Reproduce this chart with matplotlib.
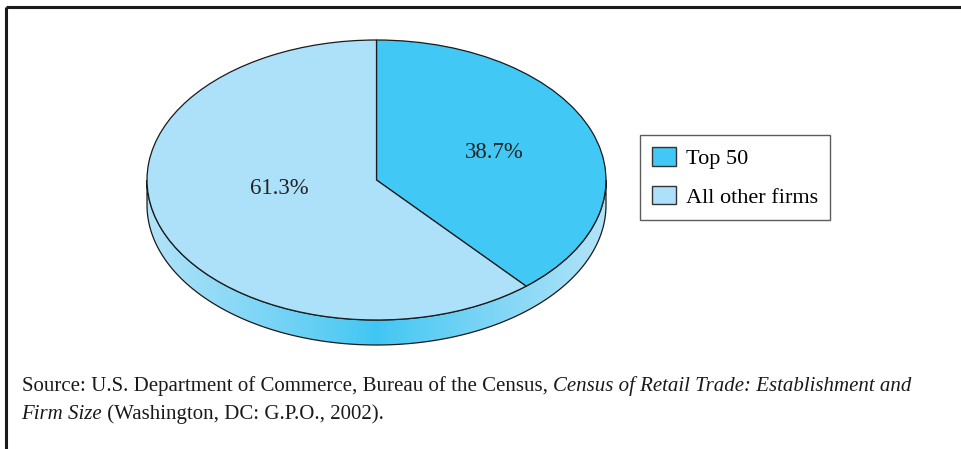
import numpy as np
import matplotlib
matplotlib.use("Agg")
from matplotlib import pyplot as plt
from matplotlib.patches import Wedge, PathPatch, Patch
from matplotlib.path import Path
from matplotlib.transforms import Affine2D
from matplotlib.colors import to_rgb

# data
labels = ["Top 50", "All other firms"]
shares = [38.7, 61.3]
colors = ["#42c8f4", "#ade1fa"]
pct_text = ["38.7%", "61.3%"]

# layout (pixel units, y measured upward)
W, H = 961, 449
cx, cy = 376.5, 449 - 180
a, b = 229.5, 140
depth = 25
label_pos = [(494, 449 - 153), (279, 449 - 189)]

plt.rcParams['font.family'] = ['Liberation Serif', 'DejaVu Serif']

fig = plt.figure(figsize=(W / 100, H / 100), dpi=100)
ax = fig.add_axes([0, 0, 1, 1])
ax.set_xlim(0, W)
ax.set_ylim(0, H)
ax.axis('off')

# side of the disc with a horizontal gradient
t = np.linspace(np.pi, 2 * np.pi, 200)
top_arc = np.column_stack([cx + a * np.cos(t), cy + b * np.sin(t)])
bot_arc = np.column_stack([cx + a * np.cos(t[::-1]), cy - depth + b * np.sin(t[::-1])])
side = PathPatch(Path(np.vstack([top_arc, bot_arc, top_arc[:1]]), closed=True),
                 facecolor='none', edgecolor='#1a1a1a', lw=0.9, zorder=2)
ax.add_patch(side)
xs = np.linspace(-1, 1, 400)
c_mid = np.array(to_rgb("#40c6f3"))
c_edge = np.array(to_rgb("#b2e3f8"))
w = np.abs(xs)[:, None] ** 0.9
grad = (c_mid * (1 - w) + c_edge * w)[None, :, :]
im = ax.imshow(grad, extent=[cx - a, cx + a, cy - b - depth, cy], aspect='auto',
               interpolation='bilinear', zorder=1)
im.set_clip_path(side)

# top face, clockwise from 12 o'clock
ell = Affine2D().scale(a, b).translate(cx, cy) + ax.transData
start = 90.0
for share, col in zip(shares, colors):
    sweep = share / sum(shares) * 360.0
    ax.add_patch(Wedge((0, 0), 1, start - sweep, start, facecolor=col,
                       edgecolor='#1a1a1a', lw=0.9, transform=ell, zorder=3))
    start -= sweep

for txt, (x, y) in zip(pct_text, label_pos):
    ax.text(x, y, txt, ha='center', va='center', fontsize=16.4, color='#222222', zorder=4)

handles = [Patch(facecolor=c, edgecolor='#333333', lw=1.0) for c in colors]
leg = ax.legend(handles, labels, loc='upper left', bbox_to_anchor=(640, 449 - 135),
                bbox_transform=ax.transData, borderaxespad=0, fontsize=16,
                frameon=True, fancybox=False, handlelength=1.05, handleheight=0.9,
                handletextpad=0.45, labelspacing=0.75, borderpad=0.55)
leg.get_frame().set_edgecolor('#333333')
leg.get_frame().set_linewidth(1.0)

# frame lines
ax.plot([5.5, W], [449 - 7, 449 - 7], color='#1a1a1a', lw=2.2, solid_capstyle='butt')
ax.plot([6, 6], [449 - 7, 0], color='#1a1a1a', lw=2.2, solid_capstyle='butt')

# source note with italic title
fs = 15
prev = ax.text(22, 449 - 391, "Source: U.S. Department of Commerce, Bureau of the Census, ",
               fontsize=fs, va='baseline', color='#1a1a1a')
ax.annotate("Census of Retail Trade: Establishment and", xy=(1, 0), xycoords=prev,
            va='bottom', ha='left', fontsize=fs, style='italic', color='#1a1a1a')
prev = ax.text(21, 449 - 419, "Firm Size", fontsize=fs, va='baseline', style='italic',
               color='#1a1a1a')
ax.annotate(" (Washington, DC: G.P.O., 2002).", xy=(1, 0), xycoords=prev,
            va='bottom', ha='left', fontsize=fs, color='#1a1a1a')

fig.savefig("out.png", dpi=100)
